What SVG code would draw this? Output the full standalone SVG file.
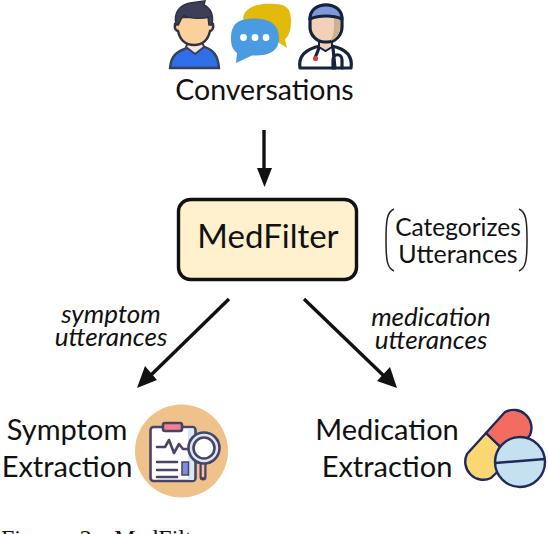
<svg xmlns="http://www.w3.org/2000/svg" width="548" height="534" viewBox="0 0 548 534">
<defs>
<style>
.t{font-family:Lato,"Liberation Sans",sans-serif;fill:#111}
.i{font-style:italic;font-size:26px;text-anchor:middle}
.l{font-size:29px;text-anchor:middle}
.c{stroke:#111;stroke-width:3.4;fill:none}
.d{stroke:#16233f;stroke-width:3.2;stroke-linejoin:round;stroke-linecap:round}
.p{stroke:#4a4368;stroke-width:2.6;stroke-linejoin:round;stroke-linecap:round}
.m{stroke:#1f2a5c;stroke-width:2.4;stroke-linejoin:round}
</style>
</defs>
<rect width="548" height="534" fill="#fff"/>
<g id="connectors">
<path class="c" d="M264 130V172"/><path d="M257 168H272L264.500 187Z" fill="#111"/>
<path class="c" d="M229 299L150 376"/><path d="M145 366L157 380L137 388Z" fill="#111"/>
<path class="c" d="M304 299L384 376"/><path d="M377 381L390 367L397 388Z" fill="#111"/>
</g>
<g id="conversations">
<path d="M170 68C171 55 177 51 190 47L205 47C213 50 218 55 219 68Z" fill="#2e6fe8" stroke="#3a3f55" stroke-width="2.400"/>
<path d="M186 47L195 54L204 47L202 42H188Z" fill="#f4e9dc" stroke="#3a3f55" stroke-width="2"/>
<path d="M175 24H178V17H211V24H213C214 28 212 31 210 31C208 40 203 45 194 45C185 45 180 40 178 31C176 31 174 28 175 24Z" fill="#fbd09b" stroke="#2f3245" stroke-width="2.400"/>
<path d="M176 25C173 11 181 5 190 3L205 1L204 5C210 8 214 14 212 25L209 25L208 17C202 19 190 19 184 15C181 18 180 22 178 25Z" fill="#3c3f57" stroke="#2f3245" stroke-width="1.500"/>
<path d="M243 18C245 5 262 3 275 4C286 4 291 9 291 20C291 30 289 36 285 39L287 48L278 42L250 30Z" fill="#e3b90a"/>
<path d="M231 39C231 24 238 19 252 18.500C266 18 279 22 279 38C279 52 268 56 252 55.500L236 63L237 53C233 50 231 46 231 39Z" fill="#4a9be2"/>
<circle cx="243.500" cy="37.500" r="3.400" fill="#fff"/><circle cx="255" cy="37.500" r="3.400" fill="#fff"/><circle cx="266" cy="37.500" r="3.400" fill="#fff"/>
<path class="d" d="M300 68C298 56 306 49 320 46L332 46C346 49 353 56 351 68Z" fill="#fff"/>
<path d="M319 38H332V47L325.500 51L319 47Z" fill="#f3d1b7" stroke="#16233f" stroke-width="2"/>
<rect class="d" x="310" y="5" width="32" height="37" rx="15" fill="#f3d1b7"/>
<path d="M332 8C338 12 341 18 340 26C340 34 337 38 331 41C335 32 335 18 332 8Z" fill="#cdb092"/>
<path class="d" d="M310 19C310 9 318 5 326 5C334 5 342 9 342 19C333 15 319 15 310 19Z" fill="#7f97dd"/>
<path class="d" d="M319 48L315 58M333 48L335 68M342 68V60C342 53 333 53 333 60V68" fill="none"/>
<circle cx="315.500" cy="58.500" r="2.600" fill="#e0403c"/>
</g>
<g id="conversations-label"><text class="t" x="264.500" y="100" font-size="28.500" text-anchor="middle">Conversations</text></g>
<g id="medfilter">
<rect x="178.500" y="199.500" width="178" height="80" rx="12" fill="#fff1cd" stroke="#111" stroke-width="3.400"/>
<text class="t" x="268" y="248" font-size="33" text-anchor="middle">MedFilter</text>
</g>
<g id="categorizes">
<path d="M394 209C387 212 386 220 386 240C386 260 387 268 394 271M519 209C526 212 527 220 527 240C527 260 526 268 519 271" fill="none" stroke="#222" stroke-width="1.500"/>
<text class="t" x="458" y="236" font-size="24.500" text-anchor="middle">Categorizes</text>
<text class="t" x="458" y="263" font-size="25" text-anchor="middle">Utterances</text>
</g>
<g id="edge-labels">
<text class="t i" x="111" y="323">symptom</text>
<text class="t i" x="111" y="346">utterances</text>
<text class="t i" x="431" y="326">medication</text>
<text class="t i" x="431" y="349">utterances</text>
</g>
<g id="symptom">
<text class="t l" x="67" y="440">Symptom</text>
<text class="t l" x="67" y="477">Extraction</text>
<circle cx="181.500" cy="451" r="46.500" fill="#efc28b"/>
<rect class="p" x="150.500" y="427" width="45" height="54" rx="3" fill="#fff"/>
<path d="M188 428.500H194V480H188Z" fill="#d7eaf2"/>
<rect class="p" x="163" y="423" width="19" height="8" rx="2" fill="#f2808e"/>
<rect x="182" y="462" width="6.500" height="13" fill="#7e8fe0" stroke="#4a4368" stroke-width="1.500"/>
<path class="p" d="M157 447H165L169 440L174 453L179 444L183 449H190M157 462H177M157 470H177M157 477H177" fill="none"/>
<path d="M203 462V477" stroke="#4a4368" stroke-width="7" stroke-linecap="round"/>
<path d="M203 464V476" stroke="#f5c6a0" stroke-width="2.500" stroke-linecap="round"/>
<circle class="p" cx="204" cy="448" r="15.500" fill="#d7eaf2"/>
<circle class="p" cx="204" cy="448" r="10.500" fill="#fff"/>
</g>
<g id="medication">
<text class="t l" x="387" y="440">Medication</text>
<text class="t l" x="387" y="477">Extraction</text>
<path class="m" d="M486 433L467 454A18 18 0 0 0 491 478L512 458Z" fill="#fbd774"/>
<path class="m" d="M486 433L505 412A18 18 0 0 1 530 435L512 458Z" fill="#f26d5f"/>
<circle class="m" cx="520" cy="462" r="25" fill="#c5e0ee"/>
<path class="m" d="M495 463L545 459"/>
</g>
<g id="caption"><text x="1" y="546" font-family="Liberation Serif,serif" font-size="24" word-spacing="10" fill="#111">Figure 2: MedFilter</text></g>
</svg>
